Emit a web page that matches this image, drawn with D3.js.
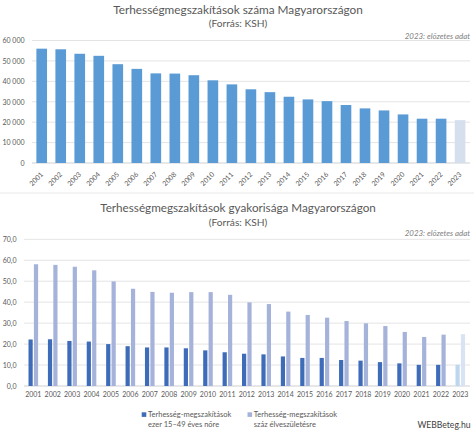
<!DOCTYPE html>
<html><head><meta charset="utf-8">
<script src="https://cdn.jsdelivr.net/npm/d3@7"></script>
<style>
html,body{margin:0;padding:0;background:#fff}
svg{display:block}
text{font-family:Lato,"Open Sans",sans-serif}
</style></head><body><svg id="c" width="474" height="433"></svg>
<script>
const years=["2001","2002","2003","2004","2005","2006","2007","2008","2009","2010","2011","2012","2013","2014","2015","2016","2017","2018","2019","2020","2021","2022","2023"];
const counts=[56000,55700,53500,52500,48400,46100,43900,43800,43000,40500,38500,36100,34700,32450,31150,30300,28400,26750,25750,23800,21700,21700,21000];
const perWomen=[22.2,22.3,21.5,21.2,20.0,19.0,18.4,18.4,18.0,17.0,16.1,15.4,15.1,14.1,13.4,13.4,12.4,12.1,11.4,10.8,10.1,10.1,10.1];
const perBirths=[58.1,57.8,56.9,55.2,49.9,46.4,44.9,44.5,44.8,44.8,43.5,39.9,39.1,35.5,33.9,32.6,31.0,29.9,28.6,25.8,23.4,24.5,24.7];
const topTicks=[0,10000,20000,30000,40000,50000,60000];
const botTicks=[0,10,20,30,40,50,60,70];
const title1="Terhességmegszakítások száma Magyarországon";
const title2="Terhességmegszakítások gyakorisága Magyarországon";
const source="(Forrás: KSH)";
const note="2023: előzetes adat";
const legend1=["Terhesség-megszakítások","ezer 15–49 éves nőre"];
const legend2=["Terhesség-megszakítások","száz élveszületésre"];
const credit="WEBBeteg.hu";

const svg=d3.select("#c");
const txt="#595959";
const tickSize=7;
function text(x,y,s,size,anchor="middle",fill=txt,style="normal"){
  return svg.append("text").attr("x",x).attr("y",y).attr("text-anchor",anchor)
    .attr("font-size",size).attr("fill",fill).attr("font-style",style).text(s);
}
function grid(y,ticks,x0,x1){
  svg.append("g").selectAll("line").data(ticks).join("line")
    .attr("x1",x0).attr("x2",x1).attr("y1",d=>y(d)).attr("y2",d=>y(d))
    .attr("stroke",d=>d===0?"#cfcfcf":"#e4e4e4").attr("stroke-width",1);
}
function yAxis(y,ticks,x,fmt){
  const g=svg.append("g").attr("transform",`translate(${x},0)`)
    .call(d3.axisLeft(y).tickValues(ticks).tickSize(0).tickPadding(0).tickFormat(fmt));
  g.select(".domain").remove();
  g.selectAll("text").attr("font-size",tickSize).attr("fill",txt).attr("font-family",'Lato,"Open Sans",sans-serif');
}

// top chart
const x1=d3.scaleBand().domain(years).range([32.2,469.6]).paddingInner(0.44).paddingOuter(0.22);
const y1=d3.scaleLinear().domain([0,60000]).range([163,40.5]);
grid(y1,topTicks,32,470);
svg.append("g").selectAll("rect").data(counts).join("rect")
  .attr("x",(d,i)=>x1(years[i])).attr("width",x1.bandwidth())
  .attr("y",d=>y1(d)).attr("height",d=>y1(0)-y1(d))
  .attr("fill",(d,i)=>years[i]==="2023"?"#d6dfee":"#5b9bd5");
yAxis(y1,topTicks,24.5,d=>d3.format(",")(d).replace(",","\u00a0"));
svg.append("g").selectAll("text").data(years).join("text")
  .attr("transform",d=>`translate(${x1(d)+x1.bandwidth()/2-1},${172}) rotate(-45)`)
  .attr("text-anchor","end").attr("dy","0.6em").attr("font-size",tickSize).attr("fill",txt).text(d=>d);
text(238,13.5,title1,11.8);
text(238,27,source,10.2);
text(470,39,note,7.9,"end","#7f7f7f","italic");
svg.append("line").attr("x1",0).attr("x2",474).attr("y1",193).attr("y2",193).attr("stroke","#e8e8e8");

// bottom chart
const x2=d3.scaleBand().domain(years).range([23.6,470]);
const y2=d3.scaleLinear().domain([0,70]).range([386,239.3]);
const barW=4.2, gap=1.2;
grid(y2,botTicks,24,470);
svg.append("g").selectAll("rect").data(perWomen).join("rect")
  .attr("x",(d,i)=>x2(years[i])+x2.bandwidth()/2-gap/2-barW).attr("width",barW)
  .attr("y",d=>y2(d)).attr("height",d=>y2(0)-y2(d))
  .attr("fill",(d,i)=>years[i]==="2023"?"#bdd7ee":"#3f6cb9");
svg.append("g").selectAll("rect").data(perBirths).join("rect")
  .attr("x",(d,i)=>x2(years[i])+x2.bandwidth()/2+gap/2).attr("width",barW)
  .attr("y",d=>y2(d)).attr("height",d=>y2(0)-y2(d))
  .attr("fill",(d,i)=>years[i]==="2023"?"#dae3f3":"#a5b3db");
yAxis(y2,botTicks,16.5,d=>d3.format(".1f")(d).replace(".",","));
const ax=svg.append("g").attr("transform","translate(0,392.5)")
  .call(d3.axisBottom(x2).tickSize(0).tickPadding(0));
ax.select(".domain").remove();
ax.selectAll("text").attr("font-size",tickSize).attr("fill",txt).attr("font-family",'Lato,"Open Sans",sans-serif');
text(238,212,title2,11.7);
text(238,226,source,10.2);
text(470,236,note,7.9,"end","#7f7f7f","italic");

// legend
svg.append("rect").attr("x",141.7).attr("y",412.3).attr("width",4.6).attr("height",4.6).attr("fill","#3f6cb9");
text(148,416.8,legend1[0],7.5,"start");
text(148,426.8,legend1[1],7.5,"start");
svg.append("rect").attr("x",247.5).attr("y",412.3).attr("width",4.6).attr("height",4.6).attr("fill","#a5b3db");
text(253.8,416.8,legend2[0],7.5,"start");
text(253.8,426.8,legend2[1],7.5,"start");
text(470.5,428,credit,8.6,"end","#404040");
</script></body></html>
